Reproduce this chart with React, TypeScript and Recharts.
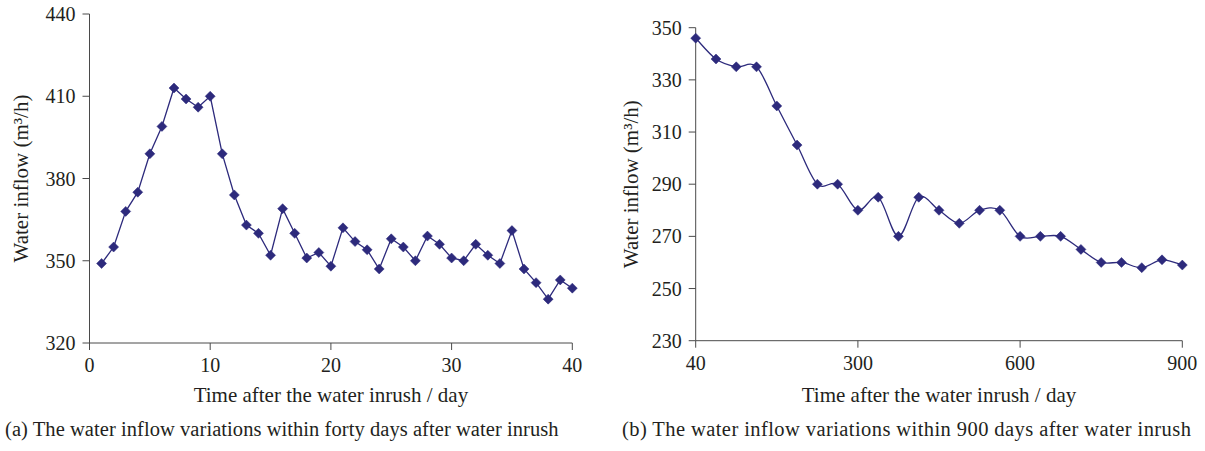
import React from 'react';
import { LineChart, Line, XAxis, YAxis, Label } from 'recharts';

// ---- Data: panel (a) — forty days after inrush ----
const daysA = [
  1, 2, 3, 4, 5, 6, 7, 8, 9, 10, 11, 12, 13, 14, 15, 16, 17, 18, 19, 20,
  21, 22, 23, 24, 25, 26, 27, 28, 29, 30, 31, 32, 33, 34, 35, 36, 37, 38, 39, 40,
];
const inflowA = [
  349, 355, 368, 375, 389, 399, 413, 409, 406, 410, 389, 374, 363, 360, 352, 369, 360, 351, 353, 348,
  362, 357, 354, 347, 358, 355, 350, 359, 356, 351, 350, 356, 352, 349, 361, 347, 342, 336, 343, 340,
];
const xTicksA = [0, 10, 20, 30, 40];
const yTicksA = [320, 350, 380, 410, 440];

// ---- Data: panel (b) — 900 days after inrush ----
const pointIndexB = [
  0, 1, 2, 3, 4, 5, 6, 7, 8, 9, 10, 11, 12, 13, 14, 15, 16, 17, 18, 19, 20, 21, 22, 23, 24,
];
const inflowB = [
  346, 338, 335, 335, 320, 305, 290, 290, 280, 285, 270, 285, 280, 275, 280, 280, 270, 270, 270, 265,
  260, 260, 258, 261, 259,
];
const xTickPositionsB = [0, 8, 16, 24];
const xTickLabelsB = ['40', '300', '600', '900'];
const yTicksB = [230, 250, 270, 290, 310, 330, 350];

const dataA = daysA.map((d, i) => ({ x: d, y: inflowA[i] }));
const dataB = pointIndexB.map((d, i) => ({ x: d, y: inflowB[i] }));

const FONT = '"Liberation Serif", "DejaVu Serif", serif';
const LINE = '#2D2A7C';
const AXIS = '#4a4a4a';
const TEXT = '#231f20';

// Catmull-Rom smoothing (like a spreadsheet "smoothed line")
const smoothCurve = (context: any) => {
  let pts: number[][] = [];
  return {
    areaStart() {},
    areaEnd() {},
    lineStart() {
      pts = [];
    },
    point(x: number, y: number) {
      pts.push([+x, +y]);
    },
    lineEnd() {
      const n = pts.length;
      if (!n) return;
      context.moveTo(pts[0][0], pts[0][1]);
      for (let i = 0; i < n - 1; i++) {
        const p0 = pts[Math.max(i - 1, 0)];
        const p1 = pts[i];
        const p2 = pts[i + 1];
        const p3 = pts[Math.min(i + 2, n - 1)];
        const c1x = p1[0] + (p2[0] - p0[0]) / 6;
        const c1y = p1[1] + (p2[1] - p0[1]) / 6;
        const c2x = p2[0] - (p3[0] - p1[0]) / 6;
        const c2y = p2[1] - (p3[1] - p1[1]) / 6;
        context.bezierCurveTo(c1x, c1y, c2x, c2y, p2[0], p2[1]);
      }
    },
  };
};

const Diamond = (props: any) => {
  const { cx, cy, index } = props;
  if (cx == null || cy == null) return <g key={`d-${index}`} />;
  const r = 5;
  return (
    <path
      key={`d-${index}`}
      d={`M${cx},${cy - r}L${cx + r},${cy}L${cx},${cy + r}L${cx - r},${cy}Z`}
      fill={LINE}
      stroke={LINE}
      strokeWidth={0.5}
    />
  );
};

const tickStyle = { fontFamily: FONT, fontSize: 20, fill: TEXT };
const labelStyle = { fontFamily: FONT, fontSize: 21, fill: TEXT };

export default function App() {
  return (
    <div
      style={{
        position: 'absolute',
        left: 0,
        top: 0,
        width: 1205,
        height: 451,
        background: '#fff',
        fontFamily: FONT,
        overflow: 'hidden',
      }}
    >
      <div style={{ position: 'absolute', left: 0, top: 0 }}>
        <LineChart
          width={600}
          height={451}
          data={dataA}
          margin={{ top: 14, right: 27.7, left: 9.5, bottom: 68 }}
        >
          <XAxis
            dataKey="x"
            type="number"
            domain={[0, 40]}
            ticks={xTicksA}
            interval={0}
            height={40}
            tickSize={7}
            tickMargin={8}
            stroke={AXIS}
            tickLine={{ stroke: AXIS }}
            tick={tickStyle}
          >
            <Label
              value="Time after the water inrush / day"
              position="bottom"
              offset={4}
              style={labelStyle}
            />
          </XAxis>
          <YAxis
            dataKey="y"
            type="number"
            domain={[320, 440]}
            ticks={yTicksA}
            interval={0}
            width={80}
            tickSize={7}
            tickMargin={7}
            stroke={AXIS}
            tickLine={{ stroke: AXIS }}
            tick={tickStyle}
          >
            <Label
              value="Water inflow (m³/h)"
              angle={-90}
              position="insideLeft"
              offset={11.5}
              style={{ ...labelStyle, textAnchor: 'middle' }}
            />
          </YAxis>
          <Line
            type="linear"
            dataKey="y"
            stroke={LINE}
            strokeWidth={1.3}
            dot={Diamond}
            activeDot={false}
            isAnimationActive={false}
          />
        </LineChart>
      </div>

      <div style={{ position: 'absolute', left: 600, top: 0 }}>
        <LineChart
          width={605}
          height={451}
          data={dataB}
          margin={{ top: 27.7, right: 22.7, left: 15.7, bottom: 70.3 }}
        >
          <XAxis
            dataKey="x"
            type="number"
            domain={[0, 24]}
            ticks={xTickPositionsB}
            interval={0}
            height={40}
            tickSize={7}
            tickMargin={8}
            stroke={AXIS}
            tickLine={{ stroke: AXIS }}
            tick={tickStyle}
            tickFormatter={(v: number) => xTickLabelsB[xTickPositionsB.indexOf(v)] ?? ''}
          >
            <Label
              value="Time after the water inrush / day"
              position="bottom"
              offset={6}
              style={labelStyle}
            />
          </XAxis>
          <YAxis
            dataKey="y"
            type="number"
            domain={[230, 350]}
            ticks={yTicksB}
            interval={0}
            width={80}
            tickSize={7}
            tickMargin={7}
            stroke={AXIS}
            tickLine={{ stroke: AXIS }}
            tick={tickStyle}
          >
            <Label
              value="Water inflow (m³/h)"
              angle={-90}
              position="insideLeft"
              offset={15}
              style={{ ...labelStyle, textAnchor: 'middle' }}
            />
          </YAxis>
          <Line
            type={smoothCurve as any}
            dataKey="y"
            stroke={LINE}
            strokeWidth={1.3}
            dot={Diamond}
            activeDot={false}
            isAnimationActive={false}
          />
        </LineChart>
      </div>

      <div
        style={{
          position: 'absolute',
          left: 5,
          top: 418,
          fontSize: 20.5,
          color: TEXT,
          whiteSpace: 'nowrap',
          lineHeight: '22px',
          letterSpacing: '0.06px',
        }}
      >
        (a) The water inflow variations within forty days after water inrush
      </div>
      <div
        style={{
          position: 'absolute',
          left: 622,
          top: 418,
          fontSize: 20.5,
          color: TEXT,
          whiteSpace: 'nowrap',
          lineHeight: '22px',
          letterSpacing: '0.42px',
        }}
      >
        (b) The water inflow variations within 900 days after water inrush
      </div>
    </div>
  );
}
